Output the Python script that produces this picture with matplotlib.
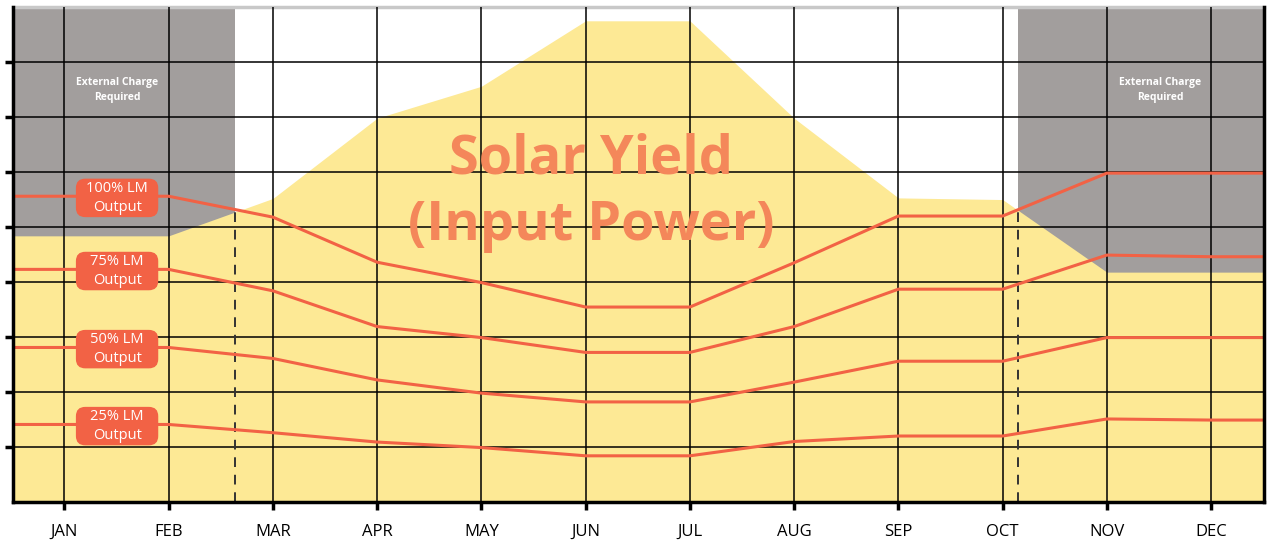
import numpy as np
import matplotlib
matplotlib.use("Agg")
import matplotlib.pyplot as plt
from matplotlib.patches import FancyBboxPatch

plt.rcParams['font.family'] = ['Open Sans', 'DejaVu Sans']

months = ['JAN', 'FEB', 'MAR', 'APR', 'MAY', 'JUN', 'JUL', 'AUG', 'SEP', 'OCT', 'NOV', 'DEC']
solar_yield = [4.84, 4.84, 5.52, 6.98, 7.56, 8.75, 8.75, 6.98, 5.53, 5.50, 4.18, 4.18]
lm_100 = [5.56, 5.56, 5.18, 4.36, 3.99, 3.545, 3.545, 4.35, 5.20, 5.20, 5.98, 5.98]
lm_75 = [4.23, 4.23, 3.84, 3.19, 2.99, 2.72, 2.72, 3.19, 3.87, 3.87, 4.49, 4.46]
lm_50 = [2.81, 2.81, 2.61, 2.22, 1.98, 1.82, 1.82, 2.18, 2.56, 2.56, 2.99, 2.99]
lm_25 = [1.41, 1.41, 1.26, 1.09, 0.99, 0.84, 0.84, 1.10, 1.20, 1.20, 1.51, 1.49]
series = [(lm_100, '100% LM\nOutput'), (lm_75, '75% LM\nOutput'),
          (lm_50, '50% LM\nOutput'), (lm_25, '25% LM\nOutput')]
# boundaries (in month units) where external charging starts / stops
charge_end = 1.635
charge_start = 9.15

YELLOW = '#FDE995'
GREY = '#A29E9D'
RED = '#F26245'

x = np.arange(len(months))
x0, x1 = -0.49, 11.51
xe = np.concatenate([[x0], x, [x1]])


def ext(v):
    return np.concatenate([[v[0]], v, [v[-1]]])


fig = plt.figure(figsize=(12.71, 5.43), dpi=100)
ax = fig.add_axes([0.0105, 0.0755, 0.9842, 0.9115])
ax.set_xlim(x0, x1)
ax.set_ylim(0, 9)

# external charge zones, then solar yield on top
ax.axvspan(x0, charge_end, color=GREY, lw=0, zorder=1)
ax.axvspan(charge_start, x1, color=GREY, lw=0, zorder=1)
ax.fill_between(xe, 0, ext(solar_yield), color=YELLOW, lw=0, zorder=2)

ax.set_xticks(x)
ax.set_xticklabels(months, fontsize=12)
ax.set_yticks(np.arange(1, 9))
ax.set_yticklabels([])
ax.grid(True, color='black', lw=1.1, zorder=3)
ax.set_axisbelow(False)
ax.tick_params(axis='both', length=6, width=2.5, color='black', pad=10)

for s in ['left', 'bottom', 'right']:
    ax.spines[s].set_linewidth(2.5)
    ax.spines[s].set_zorder(6)
ax.spines['top'].set_color('#C8C8C8')
ax.spines['top'].set_linewidth(2.5)

# dashed boundaries up to the 100% line
for bx in [charge_end, charge_start]:
    ax.plot([bx, bx], [0, np.interp(bx, x, lm_100)], color='#333333', lw=1.4,
            ls=(0, (5, 4)), zorder=4)

for vals, label in series:
    ax.plot(xe, ext(vals), color=RED, lw=2.2, zorder=5)
    bw, bh = 0.79, 0.70
    box = FancyBboxPatch((0.505 - bw / 2, vals[0] - bh / 2 - 0.03), bw, bh,
                         boxstyle='round,pad=0,rounding_size=0.09',
                         mutation_aspect=1.89,
                         fc=RED, ec='none', zorder=6)
    ax.add_patch(box)
    ax.text(0.505, vals[0] - 0.03, label, ha='center', va='center', color='white',
            multialignment='center', fontsize=10.5, linespacing=1.3, zorder=7)

for cx in [0.505, 10.515]:
    ax.text(cx, 7.49, 'External Charge\nRequired', ha='center', va='center',
            multialignment='center', color='white', fontsize=7.5,
            fontweight='bold', linespacing=1.5, zorder=7)

ax.text(5.05, 5.62, 'Solar Yield\n(Input Power)', ha='center', va='center',
        multialignment='center', color='#F4875A', fontsize=39,
        fontweight='bold', linespacing=1.3, zorder=4)

fig.savefig('out.png', dpi=100)
